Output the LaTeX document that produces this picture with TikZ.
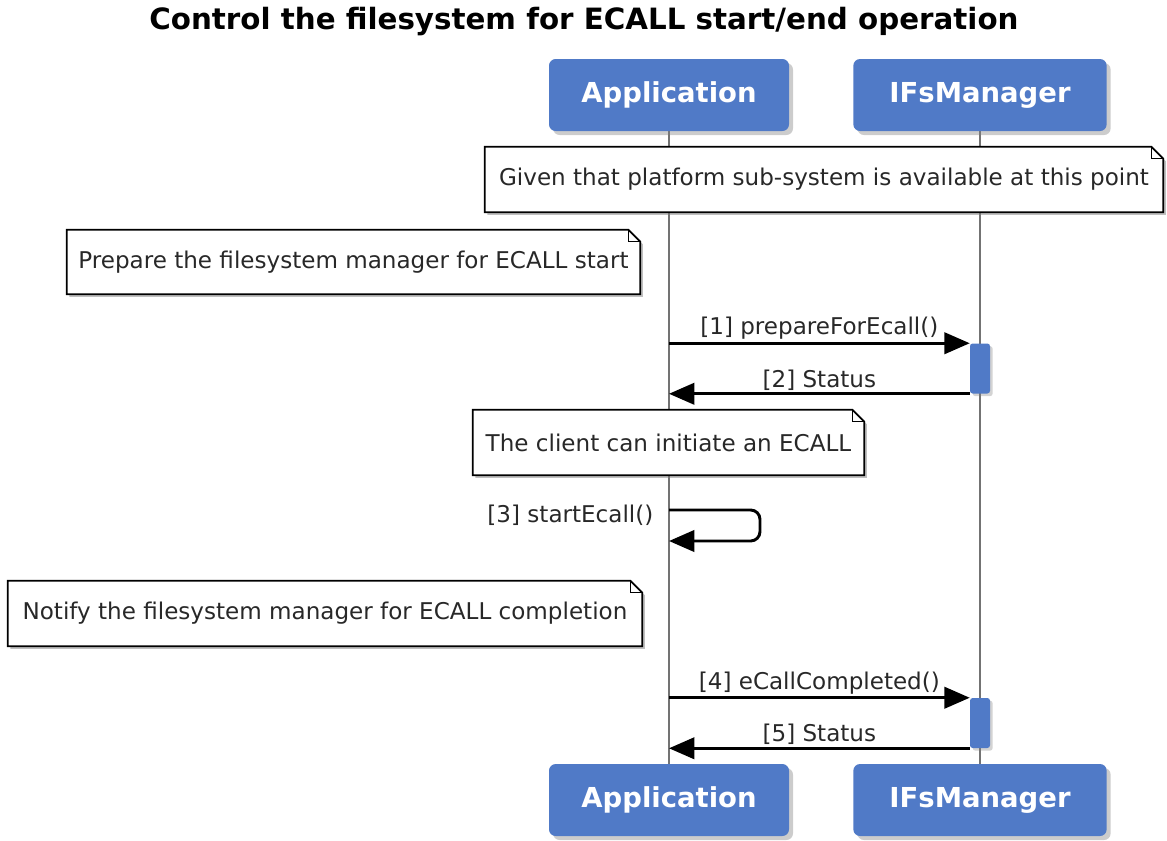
\documentclass[tikz,border=0pt]{standalone}
\usepackage{fontspec}
\setmainfont{DejaVu Sans}
\usetikzlibrary{positioning,arrows.meta,shadows,backgrounds}
\definecolor{teilnehmerblau}{RGB}{80,122,199}
\definecolor{textgrau}{RGB}{40,40,40}
\tikzset{
  teilnehmer/.style   = {fill=teilnehmerblau, rounded corners=5pt, text=white,
                         font=\fontsize{20.6}{24}\selectfont\bfseries,
                         minimum height=54pt, inner sep=0pt,
                         drop shadow={shadow xshift=3pt, shadow yshift=-3pt, opacity=.4}},
  notiz/.style        = {inner sep=0pt, text=textgrau, font=\fontsize{17.3}{20}\selectfont},
  notizrand/.style    = {draw, line width=1.3pt, fill=white,
                         drop shadow={shadow xshift=2pt, shadow yshift=-2pt, opacity=.5}},
  nachricht/.style    = {-{Triangle[length=19pt, width=16pt]}, line width=2.2pt},
  beschriftung/.style = {text=textgrau, font=\fontsize{17.3}{20}\selectfont, inner sep=1.5pt},
  lebenslinie/.style  = {draw=black!55, line width=1.5pt},
  aktiv/.style        = {fill=teilnehmerblau, rounded corners=2pt, minimum width=15pt,
                         minimum height=37.5pt, inner sep=0pt,
                         drop shadow={shadow xshift=2pt, shadow yshift=-2pt, opacity=.35}}
}
% Umriss einer Notiz mit umgeknickter Ecke
\newcommand{\notizform}[1]{%
  \path[notizrand] (#1.north west) -- ([xshift=-9pt]#1.north east)
    -- ([yshift=-9pt]#1.north east) -- (#1.south east) -- (#1.south west) -- cycle;
  \draw[line width=1pt] ([xshift=-9pt]#1.north east) |- ([yshift=-9pt]#1.north east);}

\begin{document}
\begin{tikzpicture}[x=0.75pt, y=-0.75pt]
    \useasboundingbox (0,0) rectangle (1167,840);

    \node[font=\fontsize{22}{26}\selectfont\bfseries] (titel) at (584,22)
        {Control the filesystem for ECALL start/end operation};

    \node[teilnehmer, minimum width=180pt] (app) at (669,95) {Application};
    \node[teilnehmer, minimum width=190pt] (ifs) at (980,95) {IFsManager};
    \node[teilnehmer, minimum width=180pt] (appu) at (669,800) {Application};
    \node[teilnehmer, minimum width=190pt] (ifsu) at (980,800) {IFsManager};

    \node[notiz, minimum width=508.5pt, minimum height=48.75pt] (n1) at (824,179.5)
        {Given that platform sub-system is available at this point};
    \node[notiz, minimum width=429.75pt, minimum height=48pt] (n2) at (353.5,262)
        {Prepare the filesystem manager for ECALL start};
    \node[notiz, minimum width=293.25pt, minimum height=48.75pt] (n3) at (668.5,442.5)
        {The client can initiate an ECALL};
    \node[notiz, minimum width=475.5pt, minimum height=48.75pt] (n4) at (325,613.5)
        {Notify the filesystem manager for ECALL completion};

    \begin{scope}[on background layer]
        \draw[lebenslinie] (app.south) -- (appu.north);
        \draw[lebenslinie] (ifs.south) -- (ifsu.north);
        \notizform{n1}
        \notizform{n2}
        \notizform{n3}
        \notizform{n4}
    \end{scope}

    \node[aktiv] (akt1) at (980,368.5) {};
    \node[aktiv] (akt2) at (980,723) {};

    \draw[nachricht] (akt1.north west -| app.south) -- (akt1.north west)
        node[beschriftung, midway, above] {[1] prepareForEcall()};
    \draw[nachricht] (akt1.south west) -- (akt1.south west -| app.south)
        node[beschriftung, midway, above] {[2] Status};

    \coordinate (selbst) at (669,510);
    \draw[nachricht, rounded corners=7pt] (selbst) -- ++(91,0) -- ++(0,31) -- ++(-91,0);
    \node[beschriftung, anchor=east, xshift=-10pt, yshift=-4pt] (startlabel) at (selbst)
        {[3] startEcall()};

    \draw[nachricht] (akt2.north west -| app.south) -- (akt2.north west)
        node[beschriftung, midway, above] {[4] eCallCompleted()};
    \draw[nachricht] (akt2.south west) -- (akt2.south west -| app.south)
        node[beschriftung, midway, above] {[5] Status};
\end{tikzpicture}
\end{document}
